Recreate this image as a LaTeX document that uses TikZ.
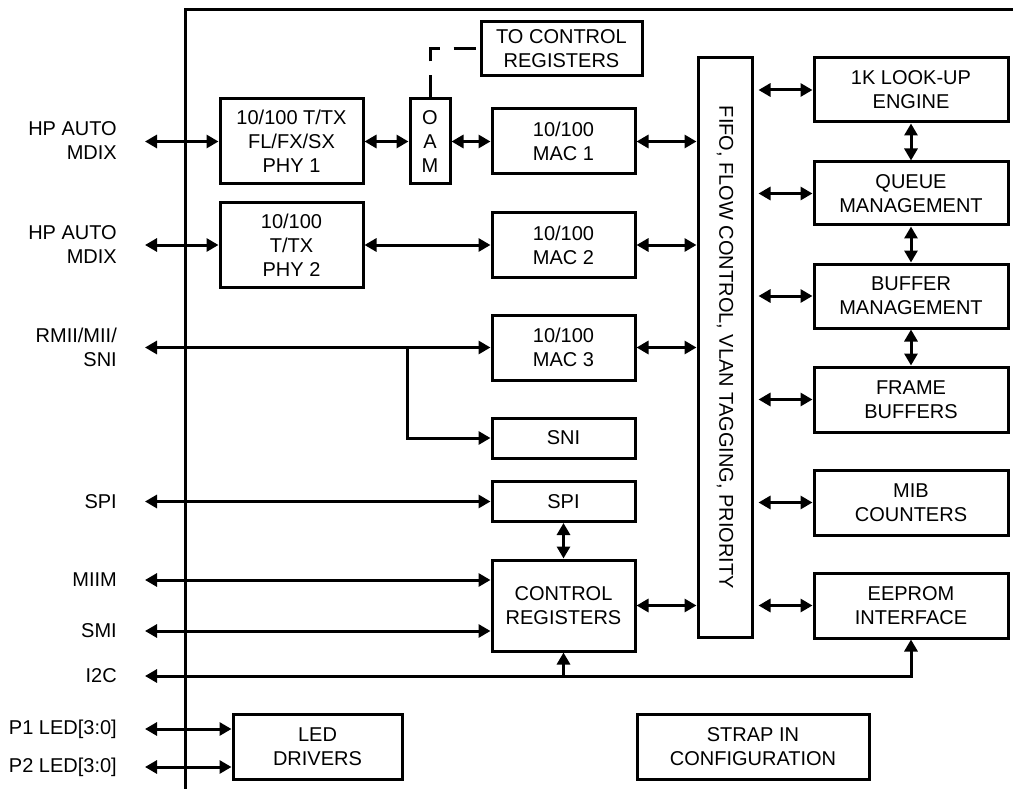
\documentclass[tikz,border=0pt]{standalone}
\usepackage{fontspec}
\setmainfont{Liberation Sans}
\usetikzlibrary{arrows.meta}
\begin{document}
\begin{tikzpicture}[x=1pt,y=-1pt,
  lw/.style={line width=3pt},
  txt/.style={font=\fontsize{20}{24}\selectfont},
  blk/.style={draw,lw,txt,align=center,inner sep=0pt},
  lbl/.style={txt,anchor=east,align=right,inner sep=0pt},
  bi/.style={lw,{Triangle[length=12pt,width=13pt]}-{Triangle[length=12pt,width=13pt]}},
  uni/.style={lw,-{Triangle[length=12pt,width=13pt]}},
  dsh/.style={lw,dash pattern=on 22pt off 14pt}
]
\useasboundingbox (0,0) rectangle (1013,789);
% chip outline
\draw[lw] (185,789) -- (185,10) -- (1013,10);

% blocks
\node[blk,minimum width=161pt,minimum height=54pt] (toctl) at (561.5,49) {TO CONTROL\\REGISTERS};
\node[blk,minimum width=143pt,minimum height=85pt] (phy1) at (291.5,141.5) {10/100 T/TX\\FL/FX/SX\\PHY 1};
\node[blk,minimum width=40pt,minimum height=85pt] (oam) at (430,141.5) {O\\A\\M};
\node[blk,minimum width=143pt,minimum height=65pt] (mac1) at (563.5,141.5) {10/100\\MAC 1};
\node[blk,minimum width=143pt,minimum height=84pt] (phy2) at (291.5,245) {10/100\\T/TX\\PHY 2};
\node[blk,minimum width=143pt,minimum height=65pt] (mac2) at (563.5,245) {10/100\\MAC 2};
\node[blk,minimum width=143pt,minimum height=65pt] (mac3) at (563.5,347.5) {10/100\\MAC 3};
\node[blk,minimum width=143pt,minimum height=40pt] (sni) at (563.5,438) {SNI};
\node[blk,minimum width=143pt,minimum height=40pt] (spi) at (563.5,501.5) {SPI};
\node[blk,minimum width=143pt,minimum height=91pt] (ctrl) at (563.5,605.5) {CONTROL\\REGISTERS};
\node[draw,lw,minimum width=54pt,minimum height=579pt,inner sep=0pt] (fifo) at (725,347.5) {};
\node[txt,rotate=-90] (fifot) at (fifo.center) {FIFO, FLOW CONTROL, VLAN TAGGING, PRIORITY};
\node[blk,minimum width=194pt,minimum height=64pt] (lookup) at (911,90) {1K LOOK-UP\\ENGINE};
\node[blk,minimum width=194pt,minimum height=63pt] (queue) at (911,193.5) {QUEUE\\MANAGEMENT};
\node[blk,minimum width=194pt,minimum height=64pt] (buffer) at (911,296) {BUFFER\\MANAGEMENT};
\node[blk,minimum width=194pt,minimum height=65pt] (frame) at (911,399.5) {FRAME\\BUFFERS};
\node[blk,minimum width=194pt,minimum height=65pt] (mib) at (911,502.5) {MIB\\COUNTERS};
\node[blk,minimum width=194pt,minimum height=65pt] (eeprom) at (911,605.5) {EEPROM\\INTERFACE};
\node[blk,minimum width=169pt,minimum height=65pt] (led) at (317.5,746.5) {LED\\DRIVERS};
\node[blk,minimum width=232pt,minimum height=65pt] (strap) at (753,746.5) {STRAP IN\\CONFIGURATION};

% external labels
\node[lbl] (lhp1) at (117,141) {HP AUTO\\MDIX};
\node[lbl] (lhp2) at (117,245) {HP AUTO\\MDIX};
\node[lbl] (lrmii) at (117,347) {RMII/MII/\\SNI};
\node[lbl] (lspi) at (117,502) {SPI};
\node[lbl] (lmiim) at (117,580) {MIIM};
\node[lbl] (lsmi) at (117,631) {SMI};
\node[lbl] (li2c) at (117,676) {I2C};
\node[lbl] (lp1) at (117,729) {P1 LED[3:0]};
\node[lbl] (lp2) at (117,767) {P2 LED[3:0]};

% pin ends
\coordinate (e1) at (145,141.5);
\coordinate (e2) at (145,245);
\coordinate (ermii) at (145,347.5);
\coordinate (espi) at (145,501.5);
\coordinate (emiim) at (145,580);
\coordinate (esmi) at (145,631);
\coordinate (ei2c) at (145,676);
\coordinate (ep1) at (145,729);
\coordinate (ep2) at (145,767);
\coordinate (jn) at (407,347.5);

% connectors
\draw[bi] (e1) -- (phy1.west);
\draw[bi] (phy1.east) -- (oam.west);
\draw[bi] (oam.east) -- (mac1.west);
\draw[bi] (mac1.east) -- (mac1.east -| fifo.west);
\draw[bi] (e2) -- (phy2.west);
\draw[bi] (phy2.east) -- (mac2.west);
\draw[bi] (mac2.east) -- (mac2.east -| fifo.west);
\draw[bi] (ermii) -- (mac3.west);
\draw[uni] (jn) -- (jn |- sni.west) -- (sni.west);
\draw[bi] (mac3.east) -- (mac3.east -| fifo.west);
\draw[bi] (espi) -- (spi.west);
\draw[bi] (spi.south) -- (ctrl.north);
\draw[bi] (emiim) -- (emiim -| ctrl.west);
\draw[bi] (esmi) -- (esmi -| ctrl.west);
\draw[bi] (ctrl.east) -- (ctrl.east -| fifo.west);
\draw[bi] (ei2c) -- (ei2c -| eeprom.south) -- (eeprom.south);
\draw[uni] (ei2c -| ctrl.south) -- (ctrl.south);
\draw[bi] (ep1) -- (ep1 -| led.west);
\draw[bi] (ep2) -- (ep2 -| led.west);
\draw[dsh] (oam.north) -- (oam.north |- toctl.west) -- (toctl.west);

\foreach \b in {lookup,queue,buffer,frame,mib,eeprom}{
  \draw[bi] ([xshift=5pt]\b.west -| fifo.east) -- (\b.west);
}
\draw[bi] (lookup.south) -- (queue.north);
\draw[bi] (queue.south) -- (buffer.north);
\draw[bi] (buffer.south) -- (frame.north);
\end{tikzpicture}
\end{document}
